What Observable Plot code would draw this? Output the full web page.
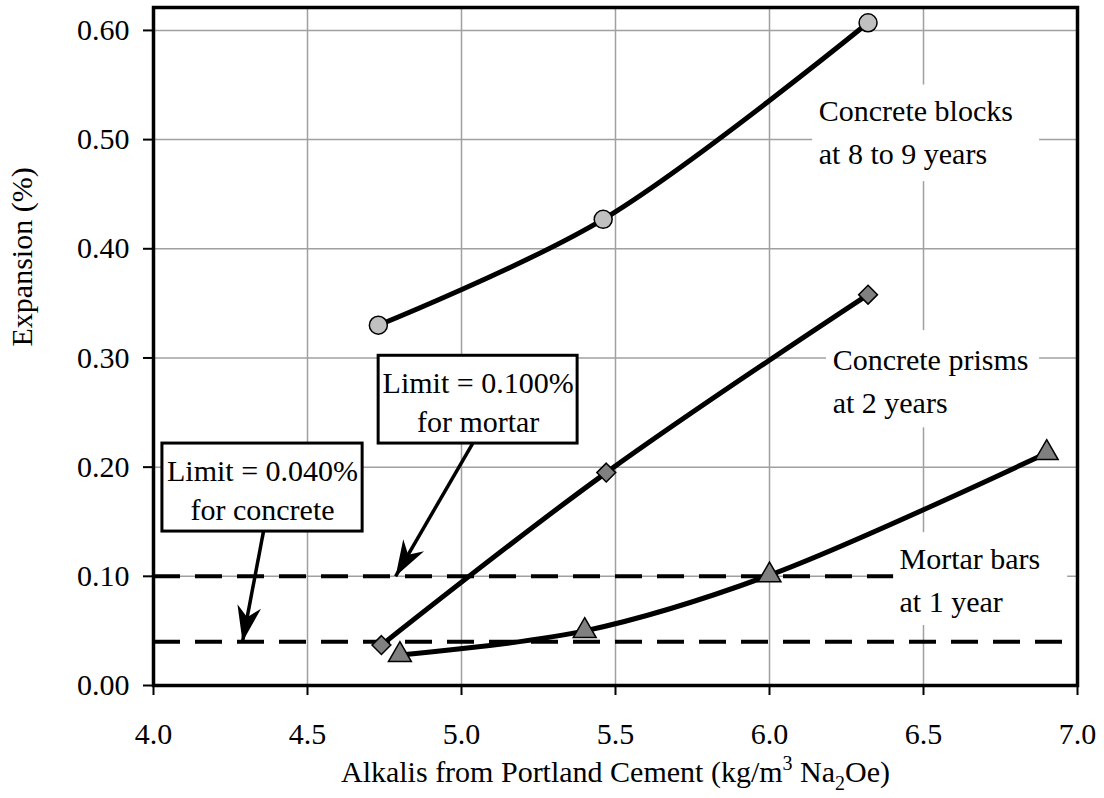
<!DOCTYPE html>
<html><head><meta charset="utf-8">
<script src="https://cdn.jsdelivr.net/npm/d3@7"></script>
<script src="https://cdn.jsdelivr.net/npm/@observablehq/plot@0.6"></script>
<style>
html,body{margin:0;padding:0;background:#fff;}
svg{display:block}
svg, svg text, svg tspan{font-family:"Liberation Serif","Tinos","DejaVu Serif","Times New Roman",Times,serif !important;}
</style>
</head><body><div id="chart"></div>
<script>
// ---- data ----
const xTicks = [4.0, 4.5, 5.0, 5.5, 6.0, 6.5, 7.0];
const yTicks = [0.0, 0.1, 0.2, 0.3, 0.4, 0.5, 0.6];

const seriesNames = ["Concrete blocks", "Concrete prisms", "Mortar bars"];
const blocksX = [4.73, 5.46, 6.32];
const blocksY = [0.330, 0.427, 0.607];
const prismsX = [4.74, 5.47, 6.32];
const prismsY = [0.037, 0.195, 0.358];
const mortarX = [4.80, 5.40, 6.00, 6.90];
const mortarY = [0.028, 0.050, 0.101, 0.213];

const limitValues = [0.100, 0.040];
const limitText = ["Limit = 0.100%\nfor mortar", "Limit = 0.040%\nfor concrete"];
const limitBoxX1 = [4.731, 4.029];
const limitBoxX2 = [5.377, 4.679];
const limitBoxY1 = [0.2216, 0.141];
const limitBoxY2 = [0.302, 0.2216];
const arrowX1 = [5.036, 4.357];
const arrowY1 = [0.2216, 0.141];
const arrowX2 = [4.786, 4.289];
const arrowY2 = [0.100, 0.040];

const labelText = ["Concrete blocks\nat 8 to 9 years", "Concrete prisms\nat 2 years", "Mortar bars\nat 1 year"];
const labelX = [6.16, 6.205, 6.422];
const labelY = [0.510, 0.2816, 0.0994];
const labelBgX1 = [6.14, 6.185, 6.403];
const labelBgX2 = [6.877, 6.877, 6.968];
const labelBgY1 = [0.4615, 0.236, 0.055];
const labelBgY2 = [0.550, 0.325, 0.140];

const xTitleParts = ["Alkalis from Portland Cement (kg/m", "3", " Na", "2", "Oe)"];
const yTitle = "Expansion (%)";

// ---- layout ----
const W = 1104, H = 798, ML = 153, MR = 27, MT = 7, MB = 113;
const xDomain = [4, 7], yDomain = [0, 0.621];
const kx = (W - ML - MR) / (xDomain[1] - xDomain[0]);
const ky = (H - MT - MB) / (yDomain[1] - yDomain[0]);

// ---- tables ----
const rows = [];
[[blocksX, blocksY], [prismsX, prismsY], [mortarX, mortarY]].forEach(([xs, ys], i) => {
  xs.forEach((x, j) => rows.push({series: seriesNames[i], x, y: ys[j]}));
});
const limitBoxes = limitText.map((t, i) => ({text: t, x1: limitBoxX1[i], x2: limitBoxX2[i], y1: limitBoxY1[i], y2: limitBoxY2[i]}));
const arrows = arrowX1.map((x, i) => {
  const a = {x1: x, y1: arrowY1[i], x2: arrowX2[i], y2: arrowY2[i]};
  const dx = (a.x2 - a.x1) * kx, dy = -(a.y2 - a.y1) * ky;
  a.angle = Math.atan2(dx, -dy) * 180 / Math.PI;
  return a;
});
const labels = labelText.map((t, i) => ({text: t, x: labelX[i], y: labelY[i], x1: labelBgX1[i], x2: labelBgX2[i], y1: labelBgY1[i], y2: labelBgY2[i]}));
const xTitle = xTitleParts.join("");

// notched (stealth) arrowhead pointing up, tip at origin
const arrowHead = {
  draw(context) {
    context.moveTo(0, 0);
    context.lineTo(12, 36);
    context.lineTo(0, 25);
    context.lineTo(-12, 36);
    context.closePath();
  }
};

const font = '"Liberation Serif", Tinos, "DejaVu Serif", serif';
const gridStyle = {stroke: "#a0a0a0", strokeOpacity: 1, strokeWidth: 1.5};
const bySeries = s => rows.filter(d => d.series === s);
const txt = {fontFamily: font, fontSize: 30, fill: "black"};

const plot = Plot.plot({
  width: W, height: H,
  marginLeft: ML, marginRight: MR, marginTop: MT, marginBottom: MB,
  style: {fontFamily: font, fontSize: "30px", background: "white", color: "black"},
  x: {domain: xDomain},
  y: {domain: yDomain},
  marks: [
    Plot.gridX(xTicks.slice(1, -1), gridStyle),
    Plot.gridY(yTicks.slice(1), gridStyle),
    Plot.ruleY(limitValues, {stroke: "black", strokeWidth: 4, strokeDasharray: "27,15"}),
    Plot.rect(labels, {x1: "x1", x2: "x2", y1: "y1", y2: "y2", fill: "white"}),
    Plot.text(labels, {x: "x", y: "y", text: "text", textAnchor: "start", lineAnchor: "middle", lineHeight: 1.43, ...txt}),
    Plot.line(rows, {x: "x", y: "y", z: "series", stroke: "black", strokeWidth: 5, curve: "catmull-rom"}),
    Plot.dot(bySeries(seriesNames[0]), {x: "x", y: "y", symbol: "circle", r: 9, fill: "#c0c0c0", stroke: "black", strokeWidth: 1.5}),
    Plot.dot(bySeries(seriesNames[1]), {x: "x", y: "y", symbol: "diamond2", r: 8.5, fill: "#808080", stroke: "black", strokeWidth: 1.5}),
    Plot.dot(bySeries(seriesNames[2]), {x: "x", y: "y", symbol: "triangle", r: 8.5, fill: "#808080", stroke: "black", strokeWidth: 1.5}),
    Plot.link(arrows, {x1: "x1", y1: "y1", x2: "x2", y2: "y2", stroke: "black", strokeWidth: 3.5}),
    Plot.dot(arrows, {x: "x2", y: "y2", symbol: arrowHead, rotate: "angle", fill: "black", stroke: "none"}),
    Plot.rect(limitBoxes, {x1: "x1", x2: "x2", y1: "y1", y2: "y2", fill: "white", stroke: "black", strokeWidth: 3}),
    Plot.text(limitBoxes, {x: d => (d.x1 + d.x2) / 2, y: d => (d.y1 + d.y2) / 2, text: "text", lineAnchor: "middle", lineHeight: 1.3, ...txt}),
    Plot.axisX(xTicks, {tickSize: 10, tickPadding: 27, strokeWidth: 2, tickFormat: d => d.toFixed(1), label: null, ...txt}),
    Plot.axisY(yTicks, {tickSize: 10, tickPadding: 14, strokeWidth: 2, tickFormat: d => d.toFixed(2), label: null, ...txt}),
    Plot.text([xTitle], {text: d => d, frameAnchor: "bottom", dy: 96, ...txt}),
    Plot.text([yTitle], {text: d => d, frameAnchor: "left", dx: -131, rotate: -90, ...txt}),
    Plot.frame({stroke: "black", strokeWidth: 3.5})
  ]
});
document.getElementById("chart").appendChild(plot);

// superscript / subscript in x title
d3.select(plot).selectAll("text").filter(function() { return this.textContent === xTitle; }).each(function() {
  const t = d3.select(this);
  t.text(null);
  t.append("tspan").text(xTitleParts[0]);
  t.append("tspan").attr("dy", -12).attr("font-size", 20).text(xTitleParts[1]);
  t.append("tspan").attr("dy", 12).text(xTitleParts[2]);
  t.append("tspan").attr("dy", 8).attr("font-size", 20).text(xTitleParts[3]);
  t.append("tspan").attr("dy", -8).text(xTitleParts[4]);
});
</script>
</body></html>
